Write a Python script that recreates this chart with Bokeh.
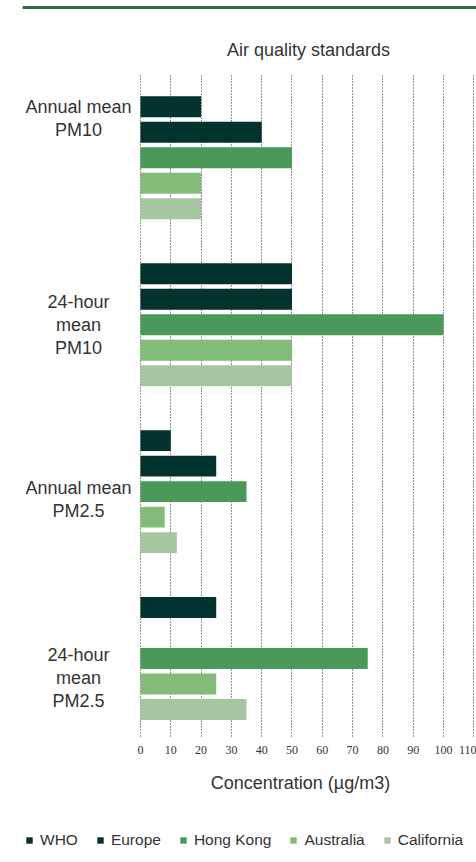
import numpy as np
from bokeh.plotting import figure
from bokeh.layouts import column
from bokeh.models import (ColumnDataSource, Range1d, FixedTicker, Legend, LegendItem)
from bokeh.embed import file_html
from bokeh.resources import INLINE

# ---------------- data ----------------
groups = ["Annual mean\nPM10", "24-hour\nmean\nPM10", "Annual mean\nPM2.5", "24-hour\nmean\nPM2.5"]
series = ["WHO", "Europe", "Hong Kong", "Australia", "California"]
who = [20, 50, 10, 25]
europe = [40, 50, 25, np.nan]
hong_kong = [50, 100, 35, 75]
australia = [20, 50, 8, 25]
california = [20, 50, 12, 35]
x_ticks = [0, 10, 20, 30, 40, 50, 60, 70, 80, 90, 100, 110]
title_text = "Air quality standards"
x_title = "Concentration (µg/m3)"

# ---------------- style ----------------
colors = ["#03332f", "#03332f", "#4a995a", "#83bb78", "#a6c6a2"]
label_dy = [-39.5, 0, 8, 20]        # px shift of group labels
GROUP_STRIDE = 6.545                # slot units between groups
PX = 25.5                           # px per slot unit
FONT = "Liberation Sans"
TXT = "#333333"
X0, X1 = -46.2, 110.9               # x range (bars start at 0)
Y_TOP, Y_GRID_TOP, Y_BOT = -4.168, -1.227, 24.733
MAIN_H, LEG_H = 765, 97
AXIS_TITLE_X, AXIS_TITLE_Y = 52.8, 17

values = [who, europe, hong_kong, australia, california]

p = figure(width=476, height=MAIN_H, output_backend="svg", toolbar_location=None,
           x_range=Range1d(X0, X1), y_range=Range1d(Y_BOT, Y_TOP),
           min_border_left=0, min_border_right=0, min_border_top=0,
           min_border_bottom=MAIN_H - 737)
p.outline_line_color = None
p.background_fill_color = "white"
p.border_fill_color = "white"

for s, (name, vals, col) in enumerate(zip(series, values, colors)):
    ys, rs = [], []
    for g, v in enumerate(vals):
        if v is None or (isinstance(v, float) and np.isnan(v)):
            continue
        ys.append(g * GROUP_STRIDE + s)
        rs.append(v)
    src = ColumnDataSource(dict(y=ys, right=rs))
    p.hbar(y="y", left=0, right="right", height=0.82, source=src,
           fill_color=col, line_color=None)

# axes & grid
p.yaxis.visible = False
p.ygrid.grid_line_color = None
p.xgrid.grid_line_color = "#222222"
p.xgrid.grid_line_dash = "1 2"
p.xgrid.grid_line_width = 1
p.xgrid.ticker = FixedTicker(ticks=x_ticks)
p.xgrid.cross_bounds = (Y_GRID_TOP, Y_BOT)
p.xaxis.ticker = FixedTicker(ticks=x_ticks)
p.xaxis.axis_line_color = None
p.xaxis.major_tick_line_color = None
p.xaxis.minor_tick_line_color = None
p.xaxis.major_label_standoff = 2
p.xaxis.major_label_text_font = "Liberation Serif"
p.xaxis.major_label_text_font_size = "12px"
p.xaxis.major_label_text_color = TXT

# title (centred over the value axis)
p.text(x=[(0 + X1) / 2], y=[Y_GRID_TOP - 25 / PX], text=[title_text],
       text_align="center", text_baseline="middle", text_font={"value": FONT},
       text_font_size="18px", text_color=TXT)

# top rule
p.segment(x0=[-38.9], x1=[X1], y0=[Y_GRID_TOP - 68 / PX], y1=[Y_GRID_TOP - 68 / PX],
          line_color="#2e6b3e", line_width=3)

# group labels
gy = [g * GROUP_STRIDE + 2 + label_dy[g] / PX for g in range(len(groups))]
p.text(x=[-20.46] * len(groups), y=gy, text=groups, text_align="center",
       text_baseline="middle", text_font={"value": FONT}, text_font_size="18px",
       text_color=TXT, text_line_height=1.15)

# ---------------- axis title + legend strip ----------------
lg = figure(width=476, height=LEG_H, output_backend="svg", toolbar_location=None,
            x_range=Range1d(X0, X1), y_range=Range1d(LEG_H, 0),
            x_axis_type=None, y_axis_type=None,
            min_border_left=0, min_border_right=0, min_border_top=0,
            min_border_bottom=0)
lg.outline_line_color = None
lg.xgrid.visible = False
lg.ygrid.visible = False
lg.text(x=[AXIS_TITLE_X], y=[AXIS_TITLE_Y], text=[x_title], text_align="center",
        text_baseline="middle", text_font={"value": FONT}, text_font_size="18px",
        text_color=TXT)
items = []
for name, col in zip(series, colors):
    # legend swatch only: zero-size bar
    r = lg.hbar(y=[0], left=[0], right=[0], height=0, fill_color=col, line_color=None)
    items.append(LegendItem(label=name, renderers=[r]))
legend = Legend(items=items, orientation="horizontal", location=(25, 13),
                glyph_width=8, glyph_height=8, label_standoff=7, spacing=18,
                padding=0, margin=0, border_line_color=None,
                background_fill_alpha=0, label_height=16,
                label_text_font=FONT, label_text_font_size="15.5px",
                label_text_color=TXT)
lg.add_layout(legend, "center")

open("out.html", "w").write(file_html(column(p, lg, spacing=0), INLINE))
